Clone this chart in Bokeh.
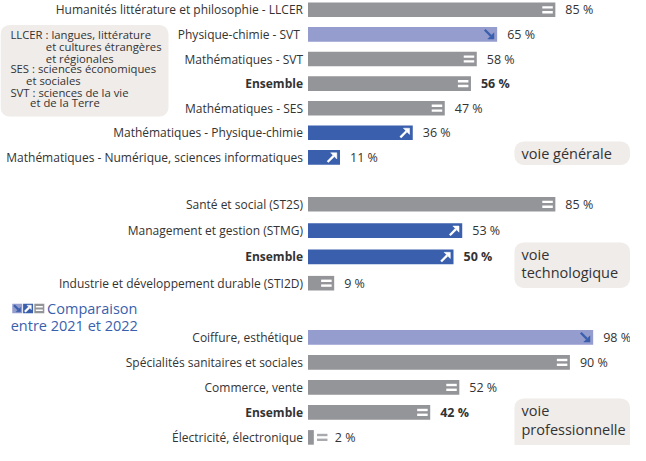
from bokeh.plotting import figure
from bokeh.models import Range1d, BoxAnnotation, ColumnDataSource
from bokeh.core.properties import value
from bokeh.embed import file_html
from bokeh.resources import INLINE

# ---------------- data ----------------
gen_labels = ["Humanités littérature et philosophie - LLCER", "Physique-chimie  - SVT",
              "Mathématiques - SVT", "Ensemble", "Mathématiques - SES",
              "Mathématiques - Physique-chimie",
              "Mathématiques - Numérique, sciences informatiques"]
gen_values = [85, 65, 58, 56, 47, 36, 11]
gen_trend = ["eq", "down", "eq", "eq", "eq", "up", "up"]

tech_labels = ["Santé et social (ST2S)", "Management et gestion (STMG)", "Ensemble",
               "Industrie et développement durable (STI2D)"]
tech_values = [85, 53, 50, 9]
tech_trend = ["eq", "up", "up", "eq"]

pro_labels = ["Coiffure, esthétique", "Spécialités sanitaires et sociales",
              "Commerce, vente", "Ensemble", "Électricité, électronique"]
pro_values = [98, 90, 52, 42, 2]
pro_trend = ["down", "eq", "eq", "eq", "eq"]

note_lines = ["LLCER : langues, littérature", "et cultures étrangères", "et régionales",
              "SES : sciences économiques", "et sociales", "SVT : sciences de la vie",
              "et de la Terre"]
legend_lines = ["Comparaison", "entre 2021 et 2022"]
group_titles = [["voie générale"], ["voie", "technologique"], ["voie", "professionnelle"]]

# ---------------- layout / style ----------------
W, H = 630, 445
X0 = 307.5      # pixel position of 0 %
PPP = 2.91      # pixels per percent
BAR_H = 14.6
FONT = "Open Sans"
TXT = "#333333"
GRAY = "#949599"
BLUE = "#3a5fad"
LILAC = "#959dce"
BOXBG = "#f0ecea"
COLORS = {"eq": GRAY, "up": BLUE, "down": LILAC}

def px2x(px):
    return (px - X0) / PPP

groups = [(gen_labels, gen_values, gen_trend, 9.3, 24.6),
          (tech_labels, tech_values, tech_trend, 203.8, 26.3),
          (pro_labels, pro_values, pro_trend, 336.9, 25.0)]

rows = dict(y=[], v=[], label=[], color=[], style=[], vlabel=[], vx=[])
eq_icons = dict(x=[], y=[], color=[])
arr_shaft = dict(x0=[], y0=[], x1=[], y1=[], color=[])
arr_head = dict(xs=[], ys=[], color=[])


def add_arrow(cx, cy, up, color, s=1.0):
    # cx in data units, cy in px; sizes in px
    d = 4.6 * s
    sign = -1 if up else 1
    arr_shaft["x0"].append(cx - d / PPP)
    arr_shaft["y0"].append(cy - sign * d)
    arr_shaft["x1"].append(cx + 1.5 * s / PPP)
    arr_shaft["y1"].append(cy + sign * 1.5 * s)
    arr_shaft["color"].append(color)
    tipx, tipy = cx + d / PPP, cy + sign * d
    arr_head["xs"].append([tipx, tipx - 6.2 * s / PPP, tipx])
    arr_head["ys"].append([tipy, tipy, tipy - sign * 6.2 * s])
    arr_head["color"].append(color)


for labels, vals, trends, y0, dy in groups:
    for i, (lab, v, t) in enumerate(zip(labels, vals, trends)):
        y = y0 + i * dy
        rows["y"].append(y)
        rows["v"].append(v)
        rows["label"].append(lab)
        rows["color"].append(COLORS[t])
        rows["style"].append("bold" if lab == "Ensemble" else "normal")
        rows["vlabel"].append(f"{v} %")
        inside = v * PPP >= 14
        if inside:
            cx = v - 7.8 / PPP
            lx = v + 10 / PPP
            icol = "white"
        else:
            cx = v + 8.4 / PPP
            lx = v + 21 / PPP
            icol = "#a9aaad"
        rows["vx"].append(lx)
        if t == "eq":
            for off in (-2.4, 2.4):
                eq_icons["x"].append(cx)
                eq_icons["y"].append(y + off)
                eq_icons["color"].append(icol)
        else:
            add_arrow(cx, y, t == "up", "white" if t == "up" else BLUE)

p = figure(width=W, height=H, output_backend="svg", toolbar_location=None,
           x_range=Range1d(px2x(0), px2x(W)), y_range=Range1d(H, 0),
           min_border=0, outline_line_color=None, background_fill_color="white")
p.xaxis.visible = False
p.yaxis.visible = False
p.xgrid.visible = False
p.ygrid.visible = False

# background boxes
p.add_layout(BoxAnnotation(left=px2x(0), right=px2x(168), top=24.4, bottom=116.1,
                           fill_color=BOXBG, fill_alpha=1, line_color=None,
                           border_radius=9, level="underlay"))
box_specs = [(141.1, 164.5), (241.9, 287.4), (397.9, 460)]
for top, bottom in box_specs:
    p.add_layout(BoxAnnotation(left=px2x(514), right=px2x(629.5), top=top, bottom=bottom,
                               fill_color=BOXBG, fill_alpha=1, line_color=None,
                               border_radius=9, level="underlay"))

src = ColumnDataSource(rows)
p.hbar(y="y", left=0, right="v", height=BAR_H, fill_color="color", line_color=None, source=src)
p.text(x=0, y="y", text="label", x_offset=-5, text_align="right", text_baseline="middle",
       text_font=value(FONT), text_font_size="12px", text_color=TXT,
       text_font_style="style", source=src)
p.text(x="vx", y="y", text="vlabel", text_align="left", text_baseline="middle",
       text_font=value(FONT), text_font_size="12.5px", text_color=TXT,
       text_font_style="style", source=src)

p.rect(x="x", y="y", width=10.5, height=2.4, width_units="screen", height_units="screen",
       fill_color="color", line_color=None, source=ColumnDataSource(eq_icons))

# legend squares
sq_x = [16.75, 27.6, 38.8]
sq_col = [LILAC, BLUE, GRAY]
p.rect(x=[px2x(a) for a in sq_x], y=[308] * 3, width=10, height=9.5, width_units="screen",
       height_units="screen", fill_color=sq_col, line_color=None)
add_arrow(px2x(sq_x[0]), 308, False, BLUE, s=0.7)
add_arrow(px2x(sq_x[1]), 308, True, "white", s=0.7)
p.rect(x=[px2x(sq_x[2])] * 2, y=[306.2, 309.8], width=7, height=1.6, width_units="screen",
       height_units="screen", fill_color="white", line_color=None)

p.segment(x0="x0", y0="y0", x1="x1", y1="y1", line_color="color", line_width=2.3,
          source=ColumnDataSource(arr_shaft))
p.patches(xs="xs", ys="ys", fill_color="color", line_color="color", line_width=0.5,
          source=ColumnDataSource(arr_head))

# note text
note_x = [9.9, 45.3, 45.3, 9.9, 25.6, 9.9, 29.6]
note_y = [34.2, 45.9, 57.6, 68.3, 80.0, 91.7, 102.4]
p.text(x=[px2x(a) for a in note_x], y=note_y, text=note_lines, text_align="left",
       text_baseline="middle", text_font=value(FONT), text_font_size="11.3px",
       text_color=TXT)

# group titles
title_pos = [(153.1,), (253.6, 272.1), (409.6, 429.1)]
for lines, ys in zip(group_titles, title_pos):
    p.text(x=[px2x(521)] * len(lines), y=list(ys), text=lines, text_align="left",
           text_baseline="middle", text_font=value(FONT), text_font_size="14.5px",
           text_color=TXT)

# legend text
p.text(x=[px2x(46.6), px2x(10.2)], y=[308.2, 324.7], text=legend_lines, text_align="left",
       text_baseline="middle", text_font=value(FONT), text_font_size="14.5px",
       text_color=BLUE)

open("out.html", "w").write(file_html(p, INLINE))
